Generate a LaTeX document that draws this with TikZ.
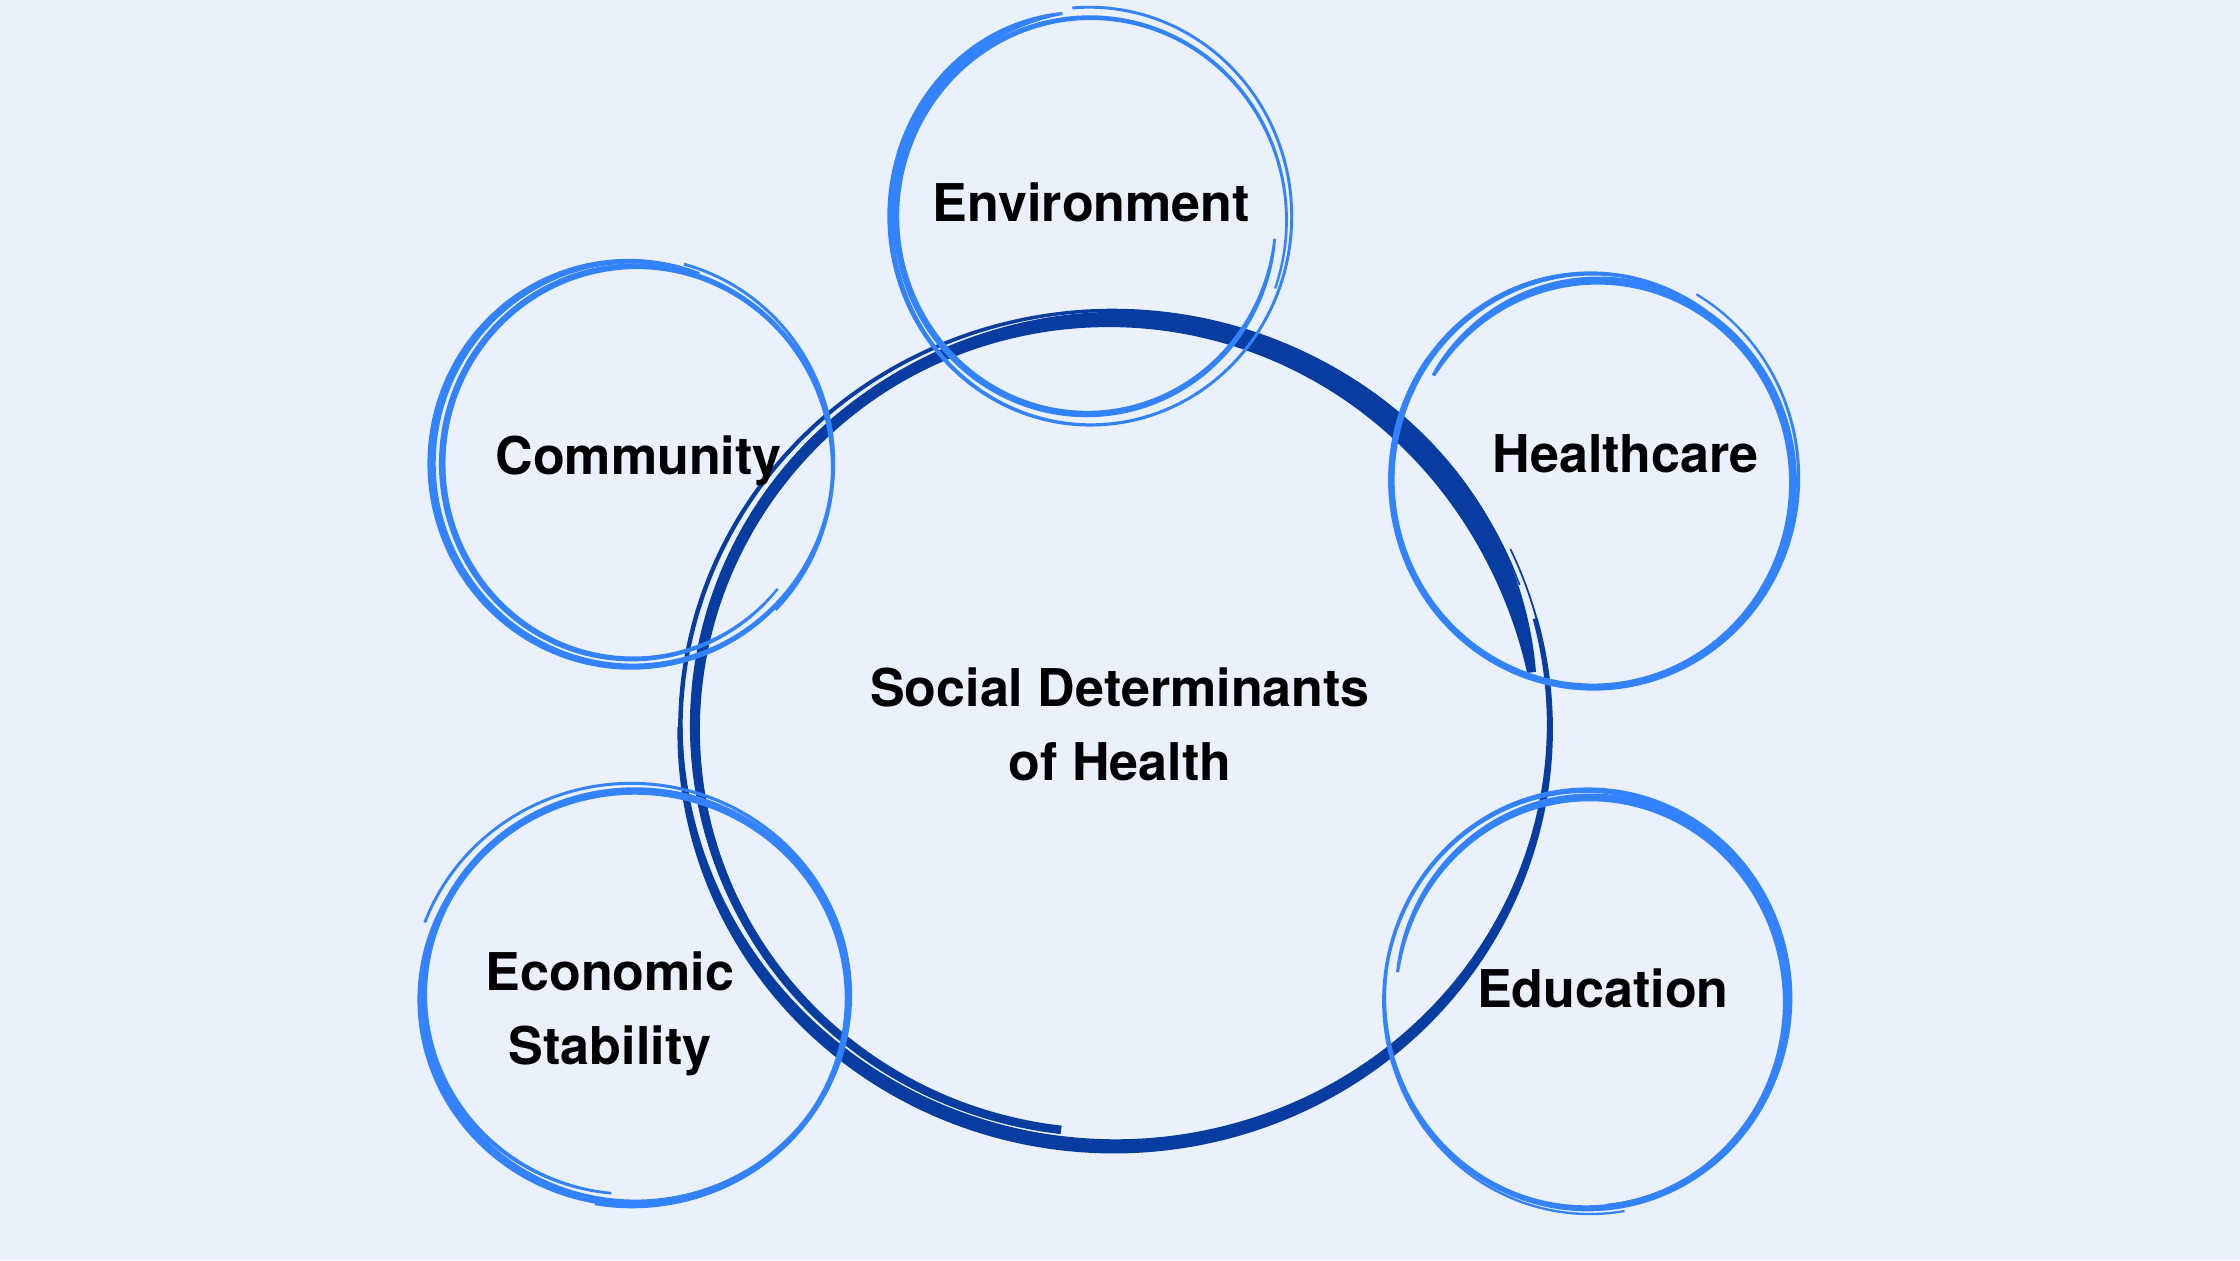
\documentclass[tikz,border=0pt]{standalone}
\usepackage{fontspec}
\setmainfont{TeX Gyre Heros}
\definecolor{bg}{RGB}{234,241,253}
\definecolor{hub}{RGB}{7,61,160}
\definecolor{sat}{RGB}{51,130,255}
\tikzset{declare function={fr(\pa,\pb,\pc)=((\pa)-(\pb)+0.5)/((\pc)-(\pb)+1);
  tp(\pa,\pb,\pc,\pk)=0.35+0.65*sin(180*fr(\pa,\pb,\pc)^(\pk));}}
\newcommand{\brush}[9][1]{
  \fill plot[domain=#6:#7,samples=120,smooth]
    ({#2+(#4+(#8)*fr(\x,#6,#7)+#9*tp(\x,#6,#7,#1))*cos(\x)},{#3+(#5+(#8)*fr(\x,#6,#7)+#9*tp(\x,#6,#7,#1))*sin(\x)})
  -- plot[domain=#7:#6,samples=120,smooth]
    ({#2+(#4+(#8)*fr(\x,#6,#7)-#9*tp(\x,#6,#7,#1))*cos(\x)},{#3+(#5+(#8)*fr(\x,#6,#7)-#9*tp(\x,#6,#7,#1))*sin(\x)})
  -- cycle;
}
\begin{document}
\begin{tikzpicture}[x=0.0142857cm,y=-0.0142857cm,
  lbl/.style={font=\fontsize{14.8}{21}\selectfont\bfseries,anchor=base,inner sep=0pt,align=center}]
\useasboundingbox (0,0) rectangle (1568,882);
\fill[bg] (0,0) rectangle (1568,882);
\begin{scope}[fill=hub]
  \brush{780}{509}{306}{295}{-25}{340}{-4}{1.6}
  \brush[1.3]{780}{509}{305}{294}{-15}{180}{-1}{5}
  \brush[5]{778}{511}{289}{282}{97}{352}{8}{8.5}
  \brush{778}{511}{290}{283}{130}{300}{5.3}{4}
\end{scope}
\begin{scope}[fill=sat]
  \brush[6]{763}{152}{142}{147}{-95}{262}{-3}{2.9}
  \brush[0.6]{762}{153}{131}{135}{6}{380}{8}{2.3}
  \brush[2]{442}{324}{142}{144}{-75}{290}{-3}{2.9}
  \brush[0.8]{444}{326}{131}{134}{40}{405}{9}{2.3}
  \brush[0.5]{1117}{336}{134}{138}{212}{575}{10}{2.9}
  \brush[1.5]{1115}{335}{145}{149}{-60}{305}{-6}{2.3}
  \brush{443}{697}{144}{139}{96}{460}{9}{2.6}
  \brush[3]{443}{697}{155}{150}{200}{569}{-7}{2.9}
  \brush[0.7]{1112}{700}{135}{140}{188}{548}{8}{2.9}
  \brush[2]{1112}{700}{145}{150}{80}{445}{-6}{2.3}
\end{scope}
\node[lbl] (env) at (764,155) {Environment};
\node[lbl] (comm) at (447,332) {Community};
\node[lbl] (hc) at (1138,331) {Healthcare};
\node[lbl] (sdoh) at (784,546) {Social Determinants\\of Health};
\node[lbl] (econ) at (427,745) {Economic\\Stability};
\node[lbl] (edu) at (1122,705) {Education};
\end{tikzpicture}
\end{document}
